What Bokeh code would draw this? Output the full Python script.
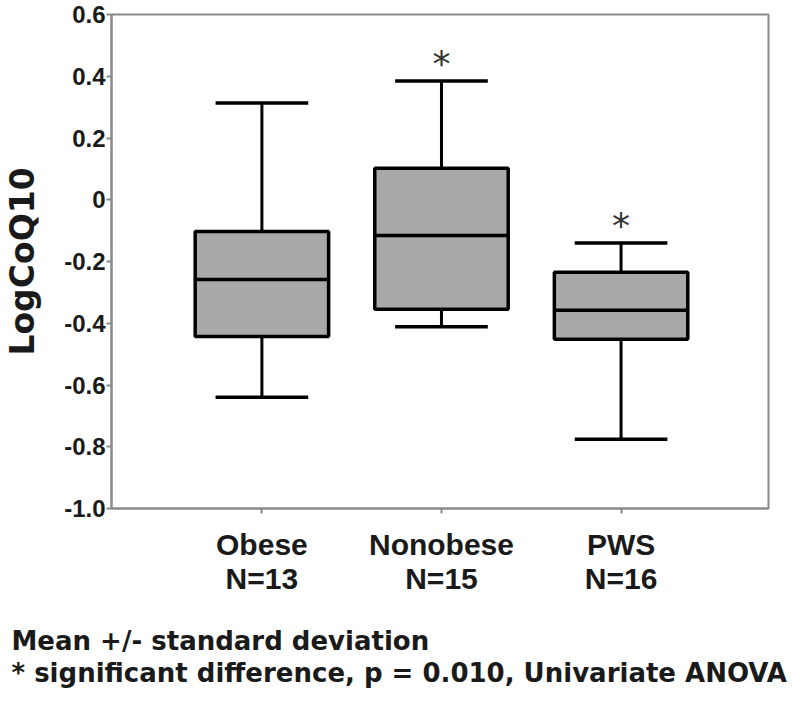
from bokeh.plotting import figure
from bokeh.models import Range1d, FixedTicker, Title, ColumnDataSource
from bokeh.core.properties import value
from bokeh.transform import dodge
from bokeh.embed import file_html
from bokeh.resources import INLINE

# ---- data ----
categories = ["Obese", "Nonobese", "PWS"]
n_counts = [13, 15, 16]
whisker_low = [-0.640, -0.411, -0.776]
box_low = [-0.443, -0.355, -0.452]
median = [-0.258, -0.116, -0.358]
box_high = [-0.103, 0.102, -0.235]
whisker_high = [0.313, 0.385, -0.140]
significant = [False, True, True]

y_ticks = [0.6, 0.4, 0.2, 0.0, -0.2, -0.4, -0.6, -0.8, -1.0]
y_tick_labels = ["0.6", "0.4", "0.2", "0", "-0.2", "-0.4", "-0.6", "-0.8", "-1.0"]
y_label = "LogCoQ10"
note_1 = "Mean +/- standard deviation"
note_2 = "* significant difference, p = 0.010, Univariate ANOVA"

xs = list(range(1, len(categories) + 1))
x_labels = {x: f"{c}\nN={n}" for x, c, n in zip(xs, categories, n_counts)}

src = ColumnDataSource(dict(x=xs, wl=whisker_low, bl=box_low, md=median,
                            bh=box_high, wh=whisker_high))

BOX_W = 0.743
CAP_W = 0.516
AX_COL = "#8a8a8a"
TXT = "#1a1a1a"

p = figure(width=792, height=688, output_backend="svg", toolbar_location=None,
           x_range=Range1d(0.1625, 3.821), y_range=Range1d(-1.0, 0.6),
           min_border_left=108, min_border_right=24, min_border_top=14,
           min_border_bottom=178)
p.background_fill_color = "white"
p.border_fill_color = "white"
p.outline_line_color = AX_COL
p.outline_line_width = 2
p.xgrid.visible = False
p.ygrid.visible = False

# whiskers (vertical)
p.segment(x0="x", y0="bh", x1="x", y1="wh", source=src, line_color="black", line_width=3)
p.segment(x0="x", y0="wl", x1="x", y1="bl", source=src, line_color="black", line_width=3)
# caps
p.segment(x0=dodge("x", -CAP_W / 2), y0="wh", x1=dodge("x", CAP_W / 2), y1="wh",
          source=src, line_color="black", line_width=3.5)
p.segment(x0=dodge("x", -CAP_W / 2), y0="wl", x1=dodge("x", CAP_W / 2), y1="wl",
          source=src, line_color="black", line_width=3.5)
# boxes
p.vbar(x="x", bottom="bl", top="bh", width=BOX_W, source=src,
       fill_color="#a9a9a9", line_color="black", line_width=3.5)
# medians
p.segment(x0=dodge("x", -BOX_W / 2), y0="md", x1=dodge("x", BOX_W / 2), y1="md",
          source=src, line_color="black", line_width=3.5)

# significance stars
sx = [x for x, s in zip(xs, significant) if s]
sy = [w for w, s in zip(whisker_high, significant) if s]
p.text(x=sx, y=sy, text=["*"] * len(sx), text_align="center", text_baseline="alphabetic",
       y_offset=-17, text_font=value("DejaVu Sans"), text_font_size="36px",
       text_color="#333333")

# y axis
p.yaxis.ticker = FixedTicker(ticks=y_ticks)
p.yaxis.major_label_overrides = {t: l for t, l in zip(y_ticks, y_tick_labels)}
p.yaxis.axis_label = y_label
p.yaxis.axis_label_text_font = "DejaVu Sans"
p.yaxis.axis_label_text_font_style = "bold"
p.yaxis.axis_label_text_font_size = "33px"
p.yaxis.axis_label_text_color = TXT
p.yaxis.axis_label_standoff = 19
p.yaxis.major_label_text_font = "Liberation Sans"
p.yaxis.major_label_text_font_style = "bold"
p.yaxis.major_label_text_font_size = "24px"
p.yaxis.major_label_text_color = TXT
p.yaxis.major_label_standoff = 1

# x axis
p.xaxis.ticker = FixedTicker(ticks=xs)
p.xaxis.major_label_overrides = x_labels
p.xaxis.major_label_text_font = "Liberation Sans"
p.xaxis.major_label_text_font_style = "bold"
p.xaxis.major_label_text_font_size = "30px"
p.xaxis.major_label_text_line_height = 1.05
p.xaxis.major_label_text_color = TXT
p.xaxis.major_label_standoff = 14
# blank spacer label under the category labels
p.xaxis.axis_label = " "
p.xaxis.axis_label_text_font_size = "16px"
p.xaxis.axis_label_standoff = 5

for ax in (p.xaxis, p.yaxis):
    ax.axis_line_color = AX_COL
    ax.axis_line_width = 2
    ax.major_tick_line_color = AX_COL
    ax.major_tick_line_width = 2
    ax.major_tick_out = 5
    ax.major_tick_in = 0
    ax.minor_tick_line_color = None

# footnotes
for txt, so in ((note_1, 0), (note_2, 1)):
    p.add_layout(Title(text=txt, align="left", offset=-100, text_font="DejaVu Sans",
                       text_font_style="bold", text_font_size="26px", text_color=TXT,
                       standoff=so), "below")

open("out.html", "w").write(file_html(p, INLINE))
